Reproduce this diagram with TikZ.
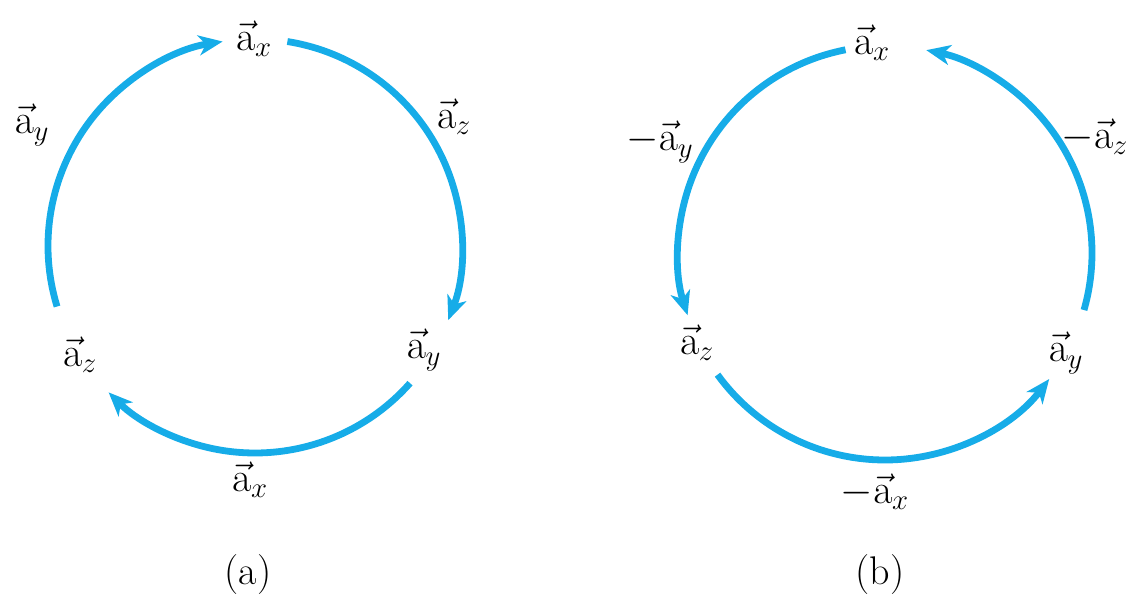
\documentclass[tikz,border=0pt]{standalone}
\usepackage{amsmath,amssymb}
\usepackage{tikz}
\usetikzlibrary{positioning}
\usetikzlibrary{calc,arrows.meta}
\definecolor{vcyan}{RGB}{22,172,232}
\tikzset{
	vecarc/.style = {draw=vcyan, line width=3.4pt,
	 -{Stealth[length=12pt,width=10pt,inset=3.5pt]}},
	lab/.style = {inner sep=1pt, font=\fontsize{20}{24}\selectfont},
}
\newcommand{\uv}[1]{\vec{\mathrm{a}}_{#1}}

\begin{document}
\begin{tikzpicture}[x=0.5pt,y=0.5pt]
\useasboundingbox (0,0) rectangle (1136,605);
% (a) clockwise
\coordinate (ca) at (255,359);
\node (axa) [lab] at (254,566) {$\uv{x}$};
\node (aza) [lab] at (454,488) {$\uv{z}$};
\node (aya) [lab] at (424,255) {$\uv{y}$};
\node (axb) [lab] at (250,125) {$\uv{x}$};
\node (azb) [lab] at (80,250) {$\uv{z}$};
\node (ayb) [lab] at (32,480) {$\uv{y}$};
\node (capa) [lab] at (248,30) {(a)};
\draw[vecarc] ([shift={(81:207)}]ca) arc[start angle=81, end angle=-21, radius=207];
\draw[vecarc] ([shift={(-41.5:207)}]ca) arc[start angle=-41.5, end angle=-135, radius=207];
\draw[vecarc] ([shift={(197:207)}]ca) arc[start angle=197, end angle=99, radius=207];
% (b) counter-clockwise
\coordinate (cb) at (885,352);
\node (bxa) [lab] at (872,562) {$\uv{x}$};
\node (bya) [lab] at (660,463) {$-\uv{y}$};
\node (bza) [lab] at (697,262) {$\uv{z}$};
\node (bxb) [lab] at (875,113) {$-\uv{x}$};
\node (byb) [lab] at (1066,252) {$\uv{y}$};
\node (bzb) [lab] at (1095,468) {$-\uv{z}$};
\node (capb) [lab] at (880,30) {(b)};
\draw[vecarc] ([shift={(101:207)}]cb) arc[start angle=101, end angle=197.5, radius=207];
\draw[vecarc] ([shift={(-144:207)}]cb) arc[start angle=-144, end angle=-37.5, radius=207];
\draw[vecarc] ([shift={(-16:207)}]cb) arc[start angle=-16, end angle=78.5, radius=207];
\end{tikzpicture}
\end{document}
